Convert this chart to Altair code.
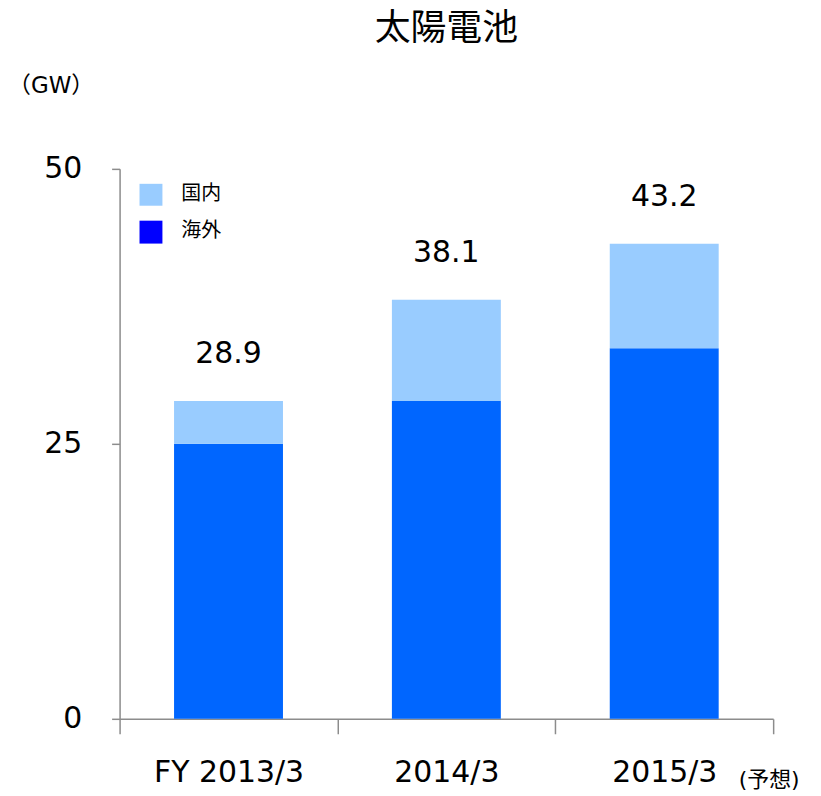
import altair as alt
import pandas as pd

years = ["FY 2013/3", "2014/3", "2015/3"]
overseas = [25.0, 28.9, 33.7]
domestic = [3.9, 9.2, 9.5]
totals = [28.9, 38.1, 43.2]
segments = ["国内", "海外"]
colors = ["#99CCFF", "#0066FF"]
legend_colors = ["#99CCFF", "#0000FF"]

FONT = "Verdana, 'DejaVu Sans', 'Noto Sans CJK JP', sans-serif"
AXIS = "#8c8c8c"

rows = []
for y, o, d in zip(years, overseas, domestic):
    rows.append({"year": y, "segment": "海外", "value": o, "ord": 0})
    rows.append({"year": y, "segment": "国内", "value": d, "ord": 1})
df = pd.DataFrame(rows)
tot = pd.DataFrame({"year": years, "total": totals})
leg = pd.DataFrame({"segment": segments, "c": legend_colors, "i": [0, 1]})

W, H = 656, 552

xscale = alt.Scale(domain=years, paddingInner=0, paddingOuter=0)
yscale = alt.Scale(domain=[0, 50])

bars = alt.Chart(df).mark_bar(width=alt.RelativeBandSize(0.5)).encode(
    x=alt.X("year:N", scale=xscale, sort=years, title=None,
            axis=alt.Axis(labelAngle=0, tickBand="extent", tickSize=15,
                          labelPadding=24, labelFontSize=30, labelFont=FONT,
                          labelColor="#000", domainColor=AXIS, tickColor=AXIS,
                          domainWidth=1.5, tickWidth=1.5)),
    y=alt.Y("value:Q", stack="zero", scale=yscale, title=None,
            axis=alt.Axis(values=[0, 25, 50], grid=False, tickSize=8,
                          labelPadding=30, labelFontSize=30, labelFont=FONT,
                          labelColor="#000", domainColor=AXIS, tickColor=AXIS,
                          domainWidth=1.5, tickWidth=1.5)),
    color=alt.Color("segment:N", scale=alt.Scale(domain=segments, range=colors), legend=None),
    order=alt.Order("ord:Q"),
)

labels = alt.Chart(tot).mark_text(dy=-32, fontSize=30, font=FONT, color="#000", baseline="bottom").encode(
    x=alt.X("year:N", scale=xscale, sort=years),
    y=alt.Y("total:Q", scale=yscale),
    text=alt.Text("total:Q", format=".1f"),
)

sq1 = alt.Chart(leg[leg.i == 0]).mark_rect(color=legend_colors[0]).encode(
    x=alt.value(20), x2=alt.value(43), y=alt.value(15), y2=alt.value(37))
sq2 = alt.Chart(leg[leg.i == 1]).mark_rect(color=legend_colors[1]).encode(
    x=alt.value(20), x2=alt.value(43), y=alt.value(52), y2=alt.value(75))
t1 = alt.Chart(leg[leg.i == 0]).mark_text(align="left", baseline="middle", fontSize=20, font=FONT, color="#000").encode(
    x=alt.value(62), y=alt.value(25), text="segment:N")
t2 = alt.Chart(leg[leg.i == 1]).mark_text(align="left", baseline="middle", fontSize=20, font=FONT, color="#000").encode(
    x=alt.value(62), y=alt.value(62), text="segment:N")

note = alt.Chart(pd.DataFrame({"t": ["(予想)"]})).mark_text(
    align="center", baseline="middle", fontSize=22, font=FONT, color="#000").encode(
    x=alt.value(652), y=alt.value(613), text="t:N")

unit = alt.Chart(pd.DataFrame({"t": ["（GW）"]})).mark_text(
    align="left", baseline="middle", fontSize=23, font=FONT, color="#000").encode(
    x=alt.value(-112), y=alt.value(-83), text="t:N")

title = alt.Chart(pd.DataFrame({"t": ["太陽電池"]})).mark_text(
    align="center", baseline="middle", fontSize=36, font=FONT, color="#000").encode(
    x=alt.value(W / 2), y=alt.value(-140), text="t:N")

chart = alt.layer(bars, labels, sq1, sq2, t1, t2, note, unit, title).properties(
    width=W, height=H,
    autosize=alt.AutoSizeParams(type="none"),
    padding={"left": 112, "top": 160, "right": 40, "bottom": 74},
).configure_view(stroke=None)

chart.save("out.html", embed_options={"renderer": "svg", "actions": False})
